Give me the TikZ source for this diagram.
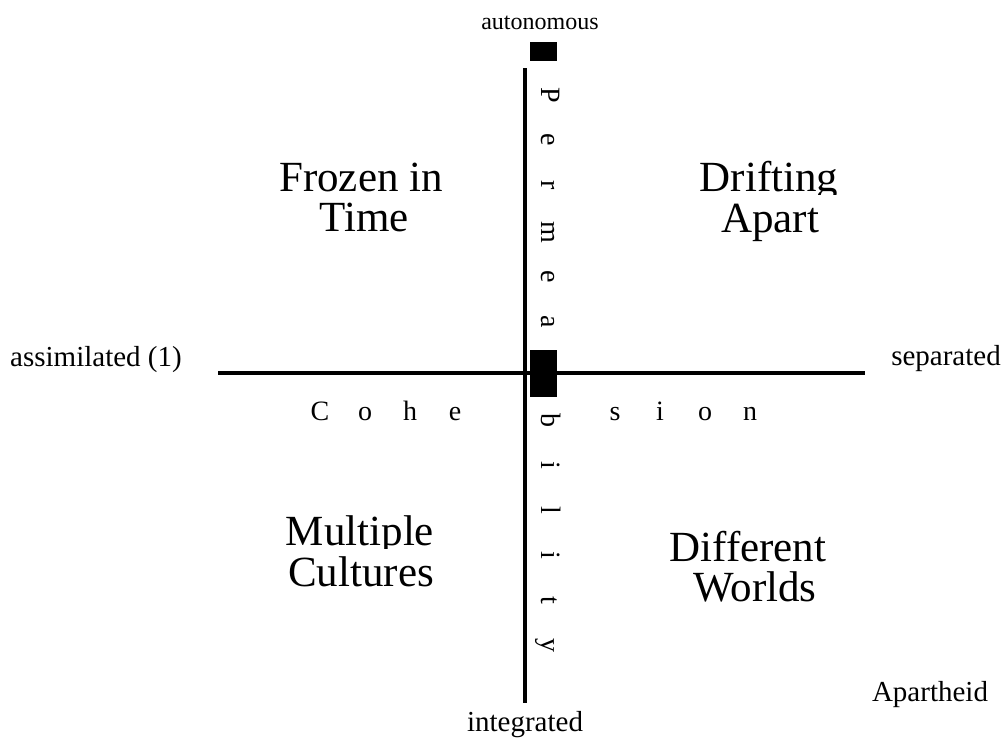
\documentclass[tikz,border=0pt]{standalone}
\usepackage{fontspec}
\setmainfont{Liberation Serif}
\begin{document}
\begin{tikzpicture}[x=1pt,y=-1pt,
  smalltxt/.style={font=\fontsize{29}{34}\selectfont, inner sep=0pt, anchor=base},
  bigtxt/.style={font=\fontsize{43}{48}\selectfont, inner sep=0pt, anchor=base},
  hletter/.style={font=\fontsize{28}{34}\selectfont, inner sep=0pt, anchor=base},
  vletter/.style={hletter, rotate=-90},
  axisline/.style={line width=3.5pt},
  blackbox/.style={fill=black, draw=none, inner sep=0pt}]
\useasboundingbox (0,0) rectangle (1004,742);
% axes
\coordinate (L) at (218,373);
\coordinate (R) at (865,373);
\coordinate (T) at (525,68);
\coordinate (B) at (525,703);
\draw[axisline] (L) -- (R);
\draw[axisline] (T) -- (B);
% black boxes
\node[blackbox, minimum width=27pt, minimum height=19pt] (topbox) at (543.5,51.5) {};
\node[blackbox, minimum width=27pt, minimum height=47pt] (midbox) at (543.5,373.5) {};
% end labels
\node[smalltxt, font=\fontsize{24}{30}\selectfont] (auto) at (540,29) {autonomous};
\node[smalltxt] (integ) at (525,731) {integrated};
\node[smalltxt] (assim) at (96,366) {assimilated (1)};
\node[smalltxt] (sep) at (946,365) {separated};
\node[smalltxt] (apart) at (930,701) {Apartheid};
% quadrant labels
\node[bigtxt] (fz1) at (361,191) {Frozen in};
\node[bigtxt] (fz2) at (364,231) {Time};
\begin{scope}
\clip (650,150) rectangle (880,194);
\node[bigtxt] (dr1) at (769,191) {Drifting};
\end{scope}
\node[bigtxt] (dr2) at (770,232) {Apart};
\begin{scope}
\clip (260,500) rectangle (460,548);
\node[bigtxt] (mu1) at (360,545) {Multiple};
\end{scope}
\node[bigtxt] (mu2) at (361,586) {Cultures};
\node[bigtxt] (di1) at (748,561) {Different};
\node[bigtxt] (di2) at (755,601) {Worlds};
% Cohesion
\node[hletter] (c1) at (320,420) {C};
\node[hletter] (c2) at (365,420) {o};
\node[hletter] (c3) at (410,420) {h};
\node[hletter] (c4) at (455,420) {e};
\node[hletter] (c5) at (615,420) {s};
\node[hletter] (c6) at (660,420) {i};
\node[hletter] (c7) at (705,420) {o};
\node[hletter] (c8) at (750,420) {n};
% Permeability
\node[vletter] (p1) at (541,95) {P};
\node[vletter] (p2) at (541,140) {e};
\node[vletter] (p3) at (541,185) {r};
\node[vletter] (p4) at (541,232) {m};
\node[vletter] (p5) at (541,277) {e};
\node[vletter] (p6) at (541,322) {a};
\node[vletter] (p7) at (541,420) {b};
\node[vletter] (p8) at (541,465) {i};
\node[vletter] (p9) at (541,510) {l};
\node[vletter] (p10) at (541,555) {i};
\node[vletter] (p11) at (541,600) {t};
\node[vletter] (p12) at (541,645) {y};
\end{tikzpicture}
\end{document}
